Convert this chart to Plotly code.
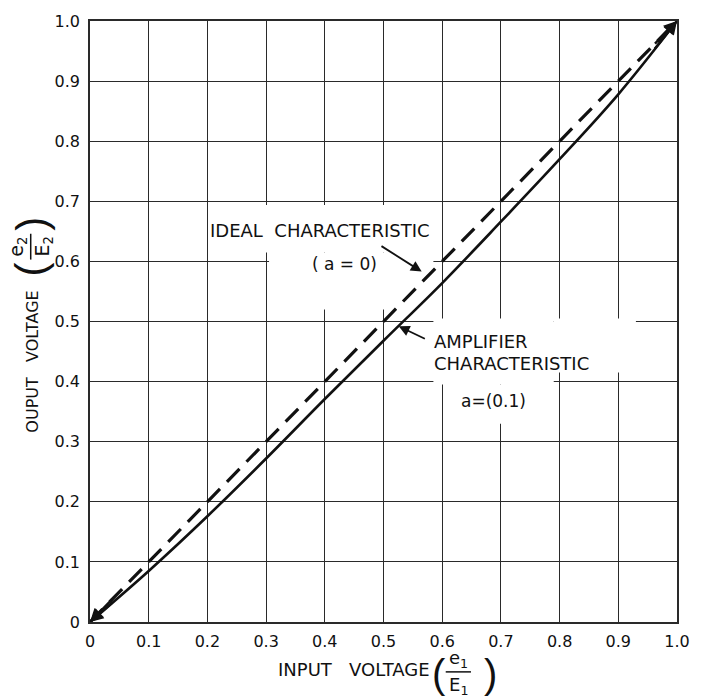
import plotly.graph_objects as go

# Transfer characteristics: normalized input vs normalized output voltage
ideal_x = [0.0, 1.0]
ideal_y = [0.0, 1.0]

amp_x = [0.0, 0.1, 0.2, 0.3, 0.4, 0.5, 0.6, 0.7, 0.8, 0.9, 1.0]
amp_y = [0.0, 0.085, 0.176, 0.272, 0.371, 0.468, 0.564, 0.666, 0.770, 0.878, 1.0]

tick_vals = [0.0, 0.1, 0.2, 0.3, 0.4, 0.5, 0.6, 0.7, 0.8, 0.9, 1.0]
x_tick_text = ["0", "0.1", "0.2", "0.3", "0.4", "0.5", "0.6", "0.7", "0.8", "0.9", "1.0"]
y_tick_text = ["0", "0.1", "0.2", "0.3", "0.4", "0.5", "0.6", "0.7", "0.8", "0.9", "1.0"]

FONT = "DejaVu Sans"
INK = "#111111"
GRID = "#2a2a2a"

fig = go.Figure()

fig.add_trace(go.Scatter(
    x=ideal_x, y=ideal_y, mode="lines",
    line=dict(color=INK, width=3.2, dash="18px,10px"),
    hoverinfo="skip", showlegend=False,
))
fig.add_trace(go.Scatter(
    x=amp_x, y=amp_y, mode="lines", line_shape="spline",
    line=dict(color=INK, width=2.6),
    hoverinfo="skip", showlegend=False,
))

# White patches that clear the grid behind the lettering
clear_boxes = [
    (0.205, 0.585, 0.615, 0.694),
    (0.305, 0.585, 0.52, 0.615),
    (0.585, 0.79, 0.395, 0.505),
    (0.79, 0.93, 0.415, 0.505),
    (0.61, 0.78, 0.33, 0.395),
]
for x0, x1, y0, y1 in clear_boxes:
    fig.add_shape(type="rect", xref="x", yref="y", x0=x0, x1=x1, y0=y0, y1=y1,
                  fillcolor="white", line=dict(width=0), layer="between")

# Arrowheads at the ends of both characteristics
for xs, ys in [(ideal_x, ideal_y), (amp_x, amp_y)]:
    for i, j in [(0, 1), (-1, -2)]:
        step = 0.04 / abs(xs[j] - xs[i])
        fig.add_annotation(
            x=xs[i], y=ys[i],
            ax=xs[i] + (xs[j] - xs[i]) * step, ay=ys[i] + (ys[j] - ys[i]) * step,
            xref="x", yref="y", axref="x", ayref="y", text="",
            showarrow=True, arrowhead=2, arrowsize=1.1, arrowwidth=2.4, arrowcolor=INK,
        )


def label(x, y, text, size, **kw):
    kw.setdefault("xanchor", "center")
    kw.setdefault("yanchor", "middle")
    fig.add_annotation(x=x, y=y, text=text, showarrow=False,
                       font=dict(family=kw.pop("family", FONT), size=size, color=INK), **kw)


label(0.391, 0.651, "IDEAL  CHARACTERISTIC", 18, xref="x", yref="y")
label(0.433, 0.596, "( a = 0)", 17, xref="x", yref="y")
fig.add_annotation(x=0.565, y=0.583, ax=0.494, ay=0.627, xref="x", yref="y",
                   axref="x", ayref="y", text="", showarrow=True, arrowhead=2,
                   arrowsize=1.2, arrowwidth=1.8, arrowcolor=INK)

label(0.583, 0.466, "AMPLIFIER", 18, xref="x", yref="y", xanchor="left")
label(0.583, 0.430, "CHARACTERISTIC", 18, xref="x", yref="y", xanchor="left")
label(0.688, 0.367, "a=(0.1)", 17, xref="x", yref="y")
fig.add_annotation(x=0.526, y=0.492, ax=0.573, ay=0.470, xref="x", yref="y",
                   axref="x", ayref="y", text="", showarrow=True, arrowhead=2,
                   arrowsize=1.2, arrowwidth=1.8, arrowcolor=INK)

# Axis titles with the voltage ratio written as a fraction
P = dict(xref="paper", yref="paper")
label(0.449, -0.079, "INPUT   VOLTAGE", 18, **P)
label(0.627, -0.061, "e<sub>1</sub>", 18, **P)
label(0.627, -0.106, "E<sub>1</sub>", 18, **P)
fig.add_shape(type="line", x0=0.606, x1=0.649, y0=-0.083, y1=-0.083,
              line=dict(color=INK, width=1.5), **P)
label(0.595, -0.086, "(", 40, family="Liberation Sans", **P)
label(0.683, -0.086, ")", 40, family="Liberation Sans", **P)

label(-0.098, 0.434, "OUPUT   VOLTAGE", 16, textangle=-90, **P)
label(-0.123, 0.624, "e<sub>2</sub>", 19, textangle=-90, **P)
label(-0.079, 0.624, "E<sub>2</sub>", 19, textangle=-90, **P)
fig.add_shape(type="line", x0=-0.101, x1=-0.101, y0=0.603, y1=0.646,
              line=dict(color=INK, width=1.5), **P)
label(-0.101, 0.586, "(", 42, family="Liberation Sans", textangle=-90, **P)
label(-0.101, 0.662, ")", 42, family="Liberation Sans", textangle=-90, **P)

axis_common = dict(
    range=[0, 1], tickmode="array", tickvals=tick_vals,
    showgrid=True, gridcolor=GRID, gridwidth=1.4,
    showline=True, linecolor=GRID, linewidth=1.6, mirror=True,
    zeroline=False, ticks="", tickfont=dict(family=FONT, size=16, color=INK),
    fixedrange=True,
)

fig.update_layout(
    width=702, height=700,
    margin=dict(l=90, r=19, t=18, b=78),
    paper_bgcolor="white", plot_bgcolor="white",
    xaxis=dict(**axis_common, ticktext=x_tick_text, ticklabelstandoff=4),
    yaxis=dict(**axis_common, ticktext=y_tick_text, ticklabelstandoff=5),
    showlegend=False,
)

fig.write_html("out.html")
